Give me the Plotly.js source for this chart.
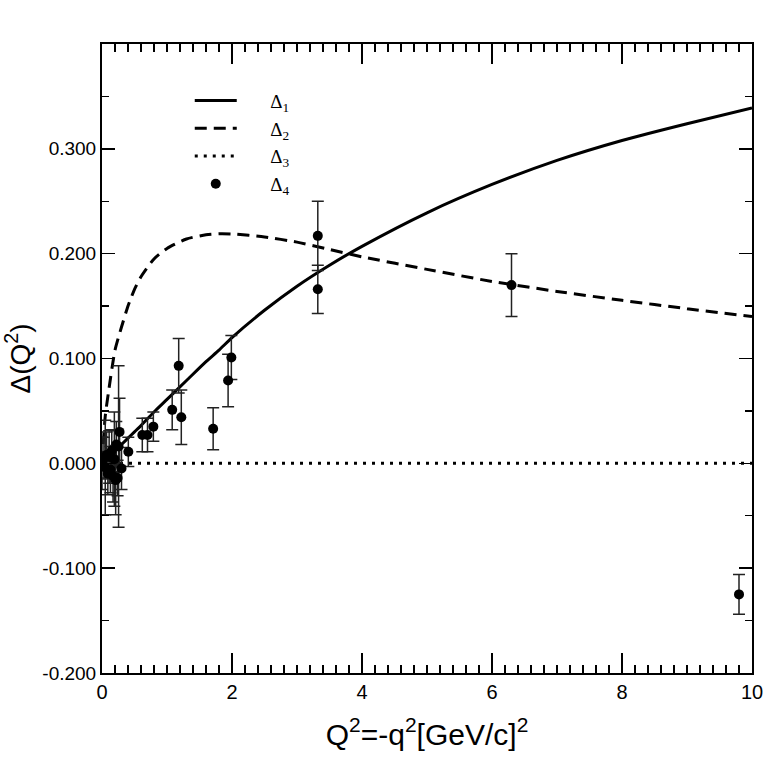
<!DOCTYPE html>
<html>
<head>
<meta charset="utf-8">
<script src="https://cdn.plot.ly/plotly-3.0.1.min.js"></script>
<style>
  html, body { margin: 0; padding: 0; background: #fff; }
  #chart { width: 763px; height: 763px; }
</style>
</head>
<body>
<div id="chart"></div>
<script>
// curves
const q2Curve = [0, 0.05, 0.1, 0.2, 0.3, 0.4, 0.5, 0.6, 0.8, 1.0, 1.3, 1.6, 1.8, 2.0, 2.5, 3.0, 3.5, 4.0, 5.0, 6.0, 7.0, 8.0, 9.0, 10.0];
const delta1 = [0, 0.003, 0.006, 0.012, 0.018, 0.024, 0.030, 0.036, 0.049, 0.061, 0.079, 0.097, 0.108, 0.120, 0.146, 0.169, 0.189, 0.207, 0.239, 0.266, 0.289, 0.308, 0.324, 0.339];
const delta2 = [0, 0.045, 0.068, 0.108, 0.130, 0.150, 0.166, 0.178, 0.195, 0.205, 0.214, 0.218, 0.219, 0.2188, 0.216, 0.211, 0.204, 0.197, 0.185, 0.1735, 0.164, 0.1555, 0.1475, 0.140];
const delta3 = [0, 0, 0, 0, 0, 0, 0, 0, 0, 0, 0, 0, 0, 0, 0, 0, 0, 0, 0, 0, 0, 0, 0, 0];

// data points with errors
const q2Data = [0.00, 0.03, 0.05, 0.07, 0.09, 0.11, 0.13, 0.15, 0.17, 0.19, 0.21, 0.22, 0.24, 0.255, 0.27, 0.30, 0.405,
                0.62, 0.70, 0.79, 1.08, 1.18, 1.22, 1.71, 1.94, 1.99, 3.32, 3.32, 6.30, 9.80];
const delta4 = [0.000, 0.005, -0.004, 0.008, -0.010, 0.006, -0.006, 0.012, -0.012, 0.004, -0.016, 0.018, -0.014, 0.016, 0.030, -0.005, 0.011,
                0.027, 0.027, 0.035, 0.051, 0.093, 0.044, 0.033, 0.079, 0.101, 0.217, 0.166, 0.170, -0.125];
const delta4Err = [0.025, 0.020, 0.045, 0.022, 0.020, 0.025, 0.022, 0.020, 0.025, 0.045, 0.033, 0.022, 0.017, 0.077, 0.032, 0.020, 0.014,
                   0.016, 0.016, 0.014, 0.019, 0.026, 0.026, 0.020, 0.025, 0.021, 0.033, 0.023, 0.030, 0.019];

const xTicks = [0, 2, 4, 6, 8, 10];
const yTicks = [-0.2, -0.1, 0, 0.1, 0.2, 0.3];
const yTickText = ['-0.200', '-0.100', '0.000', '0.100', '0.200', '0.300'];

const nb = '\u00a0\u00a0\u00a0\u00a0\u00a0\u00a0';

const traces = [
  { x: q2Curve, y: delta1, name: nb + 'Δ<sub>1</sub>', mode: 'lines', line: { color: '#000', width: 3, shape: 'spline', smoothing: 0.6 } },
  { x: q2Curve, y: delta2, name: nb + 'Δ<sub>2</sub>', mode: 'lines', line: { color: '#000', width: 3, dash: '12px,7px', shape: 'spline', smoothing: 0.6 } },
  { x: q2Curve, y: delta3, name: nb + 'Δ<sub>3</sub>', mode: 'lines', line: { color: '#000', width: 3, dash: '3px,6px' } },
  {
    x: q2Data, y: delta4, name: nb + 'Δ<sub>4</sub>', mode: 'markers',
    marker: { color: '#000', size: 10 },
    error_y: { type: 'data', array: delta4Err, visible: true, color: '#222', thickness: 1.5, width: 6 },
  },
];

const tickFont = { family: 'Liberation Sans, Arial, sans-serif', color: '#000' };

const layout = {
  width: 763, height: 763,
  margin: { l: 102, r: 11, t: 44, b: 90 },
  paper_bgcolor: '#fff', plot_bgcolor: '#fff',
  showlegend: true,
  legend: {
    x: 0.135, y: 0.94, xanchor: 'left', yanchor: 'top',
    bgcolor: 'rgba(0,0,0,0)', itemwidth: 42, tracegroupgap: 0,
    font: { family: 'Liberation Serif, Times New Roman, serif', size: 19, color: '#000' },
  },
  xaxis: {
    range: [0, 10], tickmode: 'array', tickvals: xTicks, ticklabeloverflow: 'allow',
    ticks: 'inside', ticklen: 20, tickwidth: 1.5, tickcolor: '#000',
    minor: { dtick: 0.2, tick0: 0, ticks: 'inside', ticklen: 8, tickwidth: 1.2, tickcolor: '#000' },
    showline: true, linecolor: '#000', linewidth: 2, mirror: 'allticks',
    showgrid: false, zeroline: false,
    tickfont: Object.assign({ size: 20 }, tickFont),
    title: { text: 'Q<sup>2</sup>=-q<sup>2</sup>[GeV/c]<sup>2</sup>', font: { family: 'Liberation Sans, Arial, sans-serif', size: 30, color: '#000' }, standoff: 22 },
  },
  yaxis: {
    range: [-0.2, 0.4], tickmode: 'array', tickvals: yTicks, ticktext: yTickText,
    ticks: 'inside', ticklen: 13, tickwidth: 1.5, tickcolor: '#000',
    minor: { dtick: 0.05, tick0: 0, ticks: 'inside', ticklen: 7, tickwidth: 1.2, tickcolor: '#000' },
    showline: true, linecolor: '#000', linewidth: 2, mirror: 'allticks',
    showgrid: false, zeroline: false,
    tickfont: Object.assign({ size: 19 }, tickFont),
    title: { text: 'Δ(Q<sup>2</sup>)', font: { family: 'Liberation Sans, Arial, sans-serif', size: 28, color: '#000' }, standoff: 12 },
  },
};

Plotly.newPlot('chart', traces, layout, { displayModeBar: false, staticPlot: true });
</script>
</body>
</html>
